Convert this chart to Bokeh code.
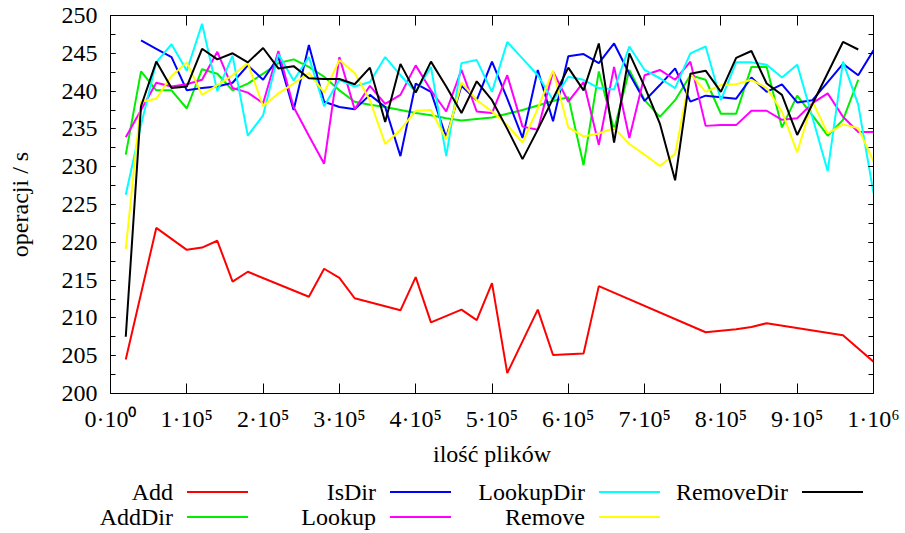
import numpy as np
from bokeh.plotting import figure
from bokeh.models import Range1d, LinearAxis, SingleIntervalTicker, Div
from bokeh.layouts import column
from bokeh.embed import file_html
from bokeh.resources import INLINE

FONT = "Liberation Serif"

# ---------------- data ----------------
files = [20000, 40000, 60000, 80000, 100000, 120000, 140000, 160000, 180000, 200000,
         220000, 240000, 260000, 280000, 300000, 320000, 340000, 360000, 380000, 400000,
         420000, 440000, 460000, 480000, 500000, 520000, 540000, 560000, 580000, 600000,
         620000, 640000, 660000, 680000, 700000, 720000, 740000, 760000, 780000, 800000,
         820000, 840000, 860000, 880000, 900000, 920000, 940000, 960000, 980000, 1000000]

add_x = [20000, 60000, 100000, 120000, 140000, 160000, 180000, 260000, 280000, 300000,
         320000, 380000, 400000, 420000, 460000, 480000, 500000, 520000, 560000, 580000,
         620000, 640000, 780000, 820000, 840000, 860000, 960000, 1000000]
add_y = [204.5, 221.9, 219.0, 219.3, 220.2, 214.8, 216.1, 212.8, 216.5, 215.3,
         212.6, 211.0, 215.4, 209.4, 211.1, 209.7, 214.6, 202.7, 211.1, 205.1,
         205.3, 214.2, 208.1, 208.5, 208.8, 209.3, 207.7, 204.2]

adddir = [231.6, 242.6, 240.1, 240.1, 237.7, 242.9, 242.3, 240.1, 241.0, 242.3,
          243.7, 244.2, 243.2, 241.9, 240.1, 238.6, 238.2, 237.9, 237.5, 237.1,
          236.8, 236.4, 236.1, 236.3, 236.5, 237.0, 237.5, 238.1, 238.7, 239.2,
          230.2, 242.6, 234.9, 242.8, 238.8, 236.6, 238.8, 242.1, 241.5, 237.0,
          237.0, 243.2, 243.2, 235.2, 239.4, 236.8, 234.1, 236.2, 241.5, None]

isdir = [None, 246.7, 245.6, 244.5, 240.1, 240.4, 240.6, 241.1, 243.4, 241.5,
         244.5, 237.5, 246.1, 238.6, 237.9, 237.6, 239.5, 237.9, 231.4, 241.0,
         239.9, 233.9, 240.7, 238.8, 243.9, 239.0, 233.8, 242.8, 236.0, 244.6,
         244.9, 243.7, 246.3, 242.3, 238.7, 240.8, 243.0, 238.6, 239.4, 239.2,
         239.0, 241.8, 239.9, 240.9, 238.5, 238.8, 241.2, 243.6, 242.1, 245.4]

lookup = [233.9, 237.5, 241.1, 240.6, 240.9, 241.5, 245.2, 240.4, 239.8, 238.4,
          245.3, 237.9, 234.1, 230.4, 244.5, 237.6, 240.7, 238.3, 239.5, 243.4,
          240.1, 237.3, 242.8, 237.3, 237.1, 242.1, 235.3, 234.9, 242.6, 238.6,
          241.2, 232.9, 243.2, 233.8, 242.1, 242.8, 241.5, 243.9, 235.4, 235.5,
          235.5, 237.4, 237.4, 236.2, 236.4, 238.4, 239.7, 236.6, 234.6, 234.6]

lookupdir = [226.3, 235.5, 243.8, 246.2, 242.7, 248.9, 240.0, 244.7, 234.1, 236.8,
             244.9, 241.4, 244.5, 238.0, 241.5, 240.6, 241.2, 244.5, 242.1, 239.9,
             243.2, 231.4, 243.7, 244.1, 239.9, 246.5, 244.3, 242.1, 238.8, 241.9,
             241.5, 240.4, 240.2, 245.9, 242.8, 241.7, 240.4, 245.0, 245.9, 238.8,
             243.8, 243.8, 243.5, 241.8, 243.5, 236.5, 229.4, 243.9, 238.2, 226.5]

remove = [219.1, 238.6, 239.0, 242.0, 243.8, 239.5, 240.8, 242.1, 243.7, 238.0,
          239.7, 241.0, 242.4, 239.8, 244.1, 242.4, 238.8, 233.0, 234.9, 237.4,
          237.5, 233.6, 241.1, 238.8, 237.3, 235.5, 233.2, 237.7, 242.7, 235.2,
          234.0, 234.4, 235.1, 233.0, 231.6, 230.1, 231.7, 242.3, 239.9, 240.8,
          240.9, 241.5, 240.4, 237.3, 231.9, 238.6, 234.4, 235.6, 235.1, 230.7]

removedir = [207.5, 238.0, 243.9, 240.4, 240.6, 245.6, 244.2, 245.0, 243.8, 245.7,
             243.0, 243.3, 241.7, 241.6, 241.6, 240.9, 243.1, 235.9, 243.6, 239.8,
             243.9, 240.6, 237.1, 241.3, 238.8, 235.0, 231.0, 234.9, 239.0, 243.1,
             240.1, 246.3, 233.2, 245.0, 240.6, 235.7, 228.2, 242.3, 242.7, 239.9,
             244.4, 245.3, 241.0, 239.5, 234.2, 238.3, 242.4, 246.5, 245.5, None]

names = ["Add", "AddDir", "IsDir", "Lookup", "LookupDir", "Remove", "RemoveDir"]
colors = ["#ff0000", "#00ee00", "#0000ff", "#ff00ff", "#00ffff", "#ffff00", "#000000"]

x_ticks = [0, 100000, 200000, 300000, 400000, 500000, 600000, 700000, 800000, 900000, 1000000]
x_tick_labels = ["0·10⁰", "1·10⁵", "2·10⁵", "3·10⁵", "4·10⁵", "5·10⁵",
                 "6·10⁵", "7·10⁵", "8·10⁵", "9·10⁵", "1·10⁶"]

# ---------------- main plot ----------------
BL, BR = 110, 32
W = 905
p = figure(width=W, height=470, x_range=Range1d(0, 1000000), y_range=Range1d(200, 250),
           output_backend="svg", toolbar_location=None,
           min_border_left=BL, min_border_right=BR, min_border_top=15, min_border_bottom=77)
p.grid.visible = False
p.outline_line_color = "black"
p.outline_line_width = 1

series = [(add_x, add_y)] + [(files, s) for s in (adddir, isdir, lookup, lookupdir, remove, removedir)]
for (xs, ys), c in zip(series, colors):
    p.line(np.array(xs, dtype=float), np.array(ys, dtype=float), line_color=c, line_width=2)

def style_x(ax, labels=True):
    ax.ticker = SingleIntervalTicker(interval=100000, num_minor_ticks=0)
    ax.major_tick_in = 10
    ax.major_tick_out = 0
    ax.minor_tick_in = 0
    ax.minor_tick_out = 0
    ax.axis_line_color = "black"
    ax.major_tick_line_color = "black"
    if labels:
        ax.major_label_overrides = {t: l for t, l in zip(x_ticks, x_tick_labels)}
        ax.major_label_text_font = FONT
        ax.major_label_text_font_size = "24px"
        ax.major_label_text_color = "black"
        ax.major_label_standoff = 12
    else:
        ax.major_label_text_font_size = "0px"
        ax.major_label_standoff = 0

def style_y(ax, labels=True):
    ax.ticker = SingleIntervalTicker(interval=5, num_minor_ticks=2)
    ax.major_tick_in = 5
    ax.major_tick_out = 0
    ax.minor_tick_in = 5
    ax.minor_tick_out = 0
    ax.axis_line_color = "black"
    ax.major_tick_line_color = "black"
    ax.minor_tick_line_color = "black"
    if labels:
        ax.major_label_text_font = FONT
        ax.major_label_text_font_size = "24px"
        ax.major_label_text_color = "black"
        ax.major_label_standoff = 13
    else:
        ax.major_label_text_font_size = "0px"
        ax.major_label_standoff = 0

style_x(p.xaxis[0])
style_y(p.yaxis[0])
p.xaxis.axis_label = "ilość plików"
p.yaxis.axis_label = "operacji / s"
for ax in (p.xaxis[0], p.yaxis[0]):
    ax.axis_label_text_font = FONT
    ax.axis_label_text_font_size = "24px"
    ax.axis_label_text_font_style = "normal"
    ax.axis_label_text_color = "black"
p.xaxis.axis_label_standoff = 6
p.yaxis.axis_label_standoff = 26

top = LinearAxis()
style_x(top, labels=False)
p.add_layout(top, "above")
right = LinearAxis()
style_y(right, labels=False)
p.add_layout(right, "right")

# ---------------- legend (HTML strip below the plot) ----------------
LEG_H = 63
col_right = [173, 376, 585, 788]
row_text_top = [10, 35]
row_line_top = [21, 46]
parts = []
for i, n in enumerate(names):
    c, r = divmod(i, 2)
    parts.append(
        f'<span style="position:absolute;right:{W - col_right[c]}px;top:{row_text_top[r]}px;'
        f'line-height:24px;white-space:nowrap">{n}</span>')
    parts.append(
        f'<span style="position:absolute;left:{col_right[c] + 14}px;top:{row_line_top[r]}px;'
        f'width:61px;height:0;border-top:2px solid {colors[i]}"></span>')
html = (f'<div style="position:relative;width:{W}px;height:{LEG_H}px;margin:0;padding:0;'
        f"font-family:'{FONT}';font-size:24px;color:black\">" + "".join(parts) + "</div>")
leg = Div(text=html, width=W, height=LEG_H, margin=0)

layout = column(p, leg, spacing=0)
open("out.html", "w").write(file_html(layout, INLINE))
